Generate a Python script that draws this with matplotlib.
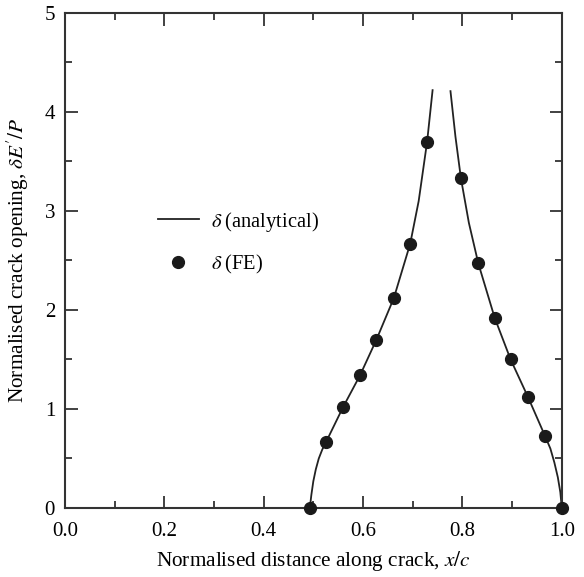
import numpy as np
import matplotlib
matplotlib.use('Agg')
import matplotlib.pyplot as plt
from matplotlib.ticker import MultipleLocator, FormatStrFormatter

plt.rcParams['font.family'] = ['Liberation Serif', 'DejaVu Serif']
plt.rcParams['mathtext.fontset'] = 'stix'

## FE points
fe_x = [0.493, 0.526, 0.560, 0.594, 0.627, 0.662, 0.695, 0.729,
        0.797, 0.832, 0.865, 0.897, 0.932, 0.966, 1.000]
fe_y = [0.00, 0.67, 1.02, 1.34, 1.70, 2.12, 2.67, 3.70,
        3.33, 2.47, 1.92, 1.50, 1.12, 0.73, 0.00]

## analytical curve, two branches (left of and right of the peak)
left_x = [0.493, 0.496, 0.500, 0.505, 0.511, 0.518, 0.526, 0.560, 0.594, 0.627,
          0.662, 0.695, 0.712, 0.729, 0.740]
left_y = [0.00, 0.13, 0.27, 0.39, 0.50, 0.59, 0.67, 1.02, 1.34, 1.70,
          2.12, 2.67, 3.10, 3.70, 4.22]
right_x = [0.776, 0.786, 0.797, 0.813, 0.832, 0.865, 0.897, 0.932, 0.966,
           0.977, 0.985, 0.992, 0.997, 1.000]
right_y = [4.21, 3.75, 3.33, 2.88, 2.47, 1.92, 1.50, 1.12, 0.73,
           0.60, 0.46, 0.31, 0.16, 0.00]

fig = plt.figure(figsize=(5.84, 5.77), dpi=100)
ax = fig.add_axes([0.111, 0.1196, 0.851, 0.858])

ax.plot(left_x, left_y, color='#222222', lw=1.3, label=r'$\delta\;$(analytical)')
ax.plot(right_x, right_y, color='#222222', lw=1.3)
ax.plot(fe_x, fe_y, 'o', color='#1a1a1a', ms=8.5, label=r'$\delta\;$(FE)', clip_on=False, zorder=5)

ax.set_xlim(0, 1)
ax.set_ylim(0, 5)
ax.xaxis.set_major_locator(MultipleLocator(0.2))
ax.xaxis.set_minor_locator(MultipleLocator(0.1))
ax.yaxis.set_major_locator(MultipleLocator(1))
ax.yaxis.set_minor_locator(MultipleLocator(0.5))
ax.xaxis.set_major_formatter(FormatStrFormatter('%.1f'))

ax.tick_params(which='both', direction='in', top=True, right=True, color='#333333', labelsize=15, width=1.3)
ax.tick_params(which='major', length=9, pad=7)
ax.tick_params(axis='x', which='major', pad=10)
ax.tick_params(which='minor', length=5)
for s in ax.spines.values():
    s.set_linewidth(1.5)
    s.set_color('#333333')

ax.set_xlabel(r'Normalised distance along crack, $x/c$', fontsize=15.3, labelpad=6)
ax.set_ylabel(r"Normalised crack opening, $\delta E'/P$", fontsize=15.3, labelpad=10)

ax.legend(loc='upper left', bbox_to_anchor=(0.15, 0.64), frameon=False, fontsize=14.8,
          handlelength=2.0, handletextpad=0.6, labelspacing=0.95)

fig.savefig('out.png', dpi=100)
